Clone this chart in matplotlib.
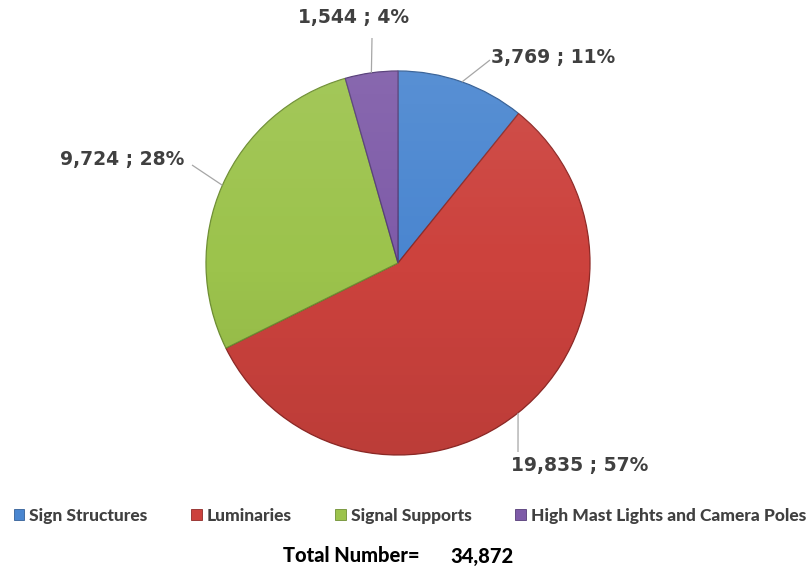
import numpy as np
import matplotlib
matplotlib.use("Agg")
import matplotlib.pyplot as plt
from matplotlib.patches import Patch, Circle

categories = ["Sign Structures", "Luminaries", "Signal Supports",
              "High Mast Lights and Camera Poles"]
counts = [3769, 19835, 9724, 1544]
colors = ["#4a86d0", "#cc423d", "#9cc34c", "#7e5ba8"]
edge_colors = ["#345f96", "#8f2a27", "#6f8f34", "#553c78"]

W, H = 812, 578
fig = plt.figure(figsize=(W / 100, H / 100), dpi=100)
ax = fig.add_axes([0, 0, 1, 1])

cx, cy, r = 398, H - 263, 192
total = sum(counts)

wedges, _ = ax.pie(counts, colors=colors, startangle=90, counterclock=False,
                   center=(cx, cy), radius=r, frame=True,
                   wedgeprops=dict(linewidth=0.9))
for w, ec in zip(wedges, edge_colors):
    w.set_edgecolor(ec)
ax.set_xlim(0, W)
ax.set_ylim(0, H)
ax.set_aspect("equal")
ax.axis("off")

# soft top-to-bottom shading across the whole pie
yy = np.linspace(1, 0, 200)[:, None] * np.ones((1, 2))
shade = np.zeros((200, 2, 4))
shade[..., :3] = np.where(yy[..., None] > 0.5, 1.0, 0.0)
shade[..., 3] = np.abs(yy - 0.5) * 0.16
clip = Circle((cx, cy), r, transform=ax.transData)
im = ax.imshow(shade, extent=(cx - r, cx + r, cy - r, cy + r), origin="upper",
               interpolation="bilinear", zorder=3, aspect="auto")
im.set_clip_path(clip)
ax.set_xlim(0, W)
ax.set_ylim(0, H)

# label text anchor positions (x, y in pixels from top) and alignment
label_pos = [(491, 57, "left"), (648, 465, "right"), (184, 160, "right"), (409, 18, "right")]
elbows = [(490, 60), (518, 452), (192, 165), (372, 38)]

for w, n, (tx, ty, ha), (ex, ey) in zip(wedges, counts, label_pos, elbows):
    mid = np.deg2rad((w.theta1 + w.theta2) / 2)
    px, py = cx + r * np.cos(mid), cy + r * np.sin(mid)
    ax.plot([px, ex], [py, H - ey], color="#a6a6a6", lw=0.9, solid_capstyle="butt")
    pct = round(100 * n / total)
    ax.text(tx, H - ty, f"{n:,} ; {pct}%", ha=ha, va="center",
            fontsize=13.5, fontweight="bold", color="#404040")

handles = [Patch(facecolor=c, edgecolor=e, linewidth=0.6) for c, e in zip(colors, edge_colors)]
leg = fig.legend(handles, categories, loc="center", bbox_to_anchor=(410 / W, 1 - 516 / H),
                 ncol=4, frameon=False, handlelength=0.6, handleheight=0.6,
                 handletextpad=0.3, columnspacing=2.5,
                 prop=dict(family="Lato", weight="black", size=12.5))
for t in leg.get_texts():
    t.set_color("#404040")

ax.text(420, H - 556, "Total Number=", ha="right", va="center",
        fontsize=14.5, fontweight="black", family="Lato", color="black")
ax.text(450, H - 556, f"{total:,}", ha="left", va="center",
        fontsize=14.5, fontweight="black", family="Lato", color="black")

fig.savefig("out.png", dpi=100, facecolor="white")
